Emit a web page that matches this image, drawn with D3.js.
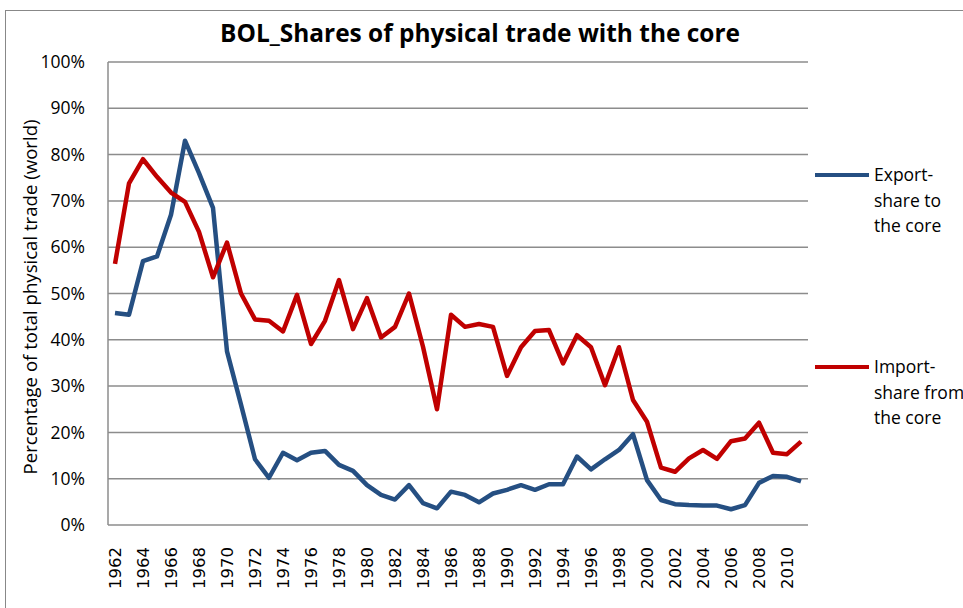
<!DOCTYPE html>
<html><head><meta charset="utf-8">
<script src="https://cdn.jsdelivr.net/npm/d3@7"></script>
<style>body{margin:0;background:#fff;}svg{display:block;}</style>
</head><body>
<svg id="chart" width="963" height="608"></svg>
<script>
const years = d3.range(1962, 2012);
const exportShare = [45.8,45.4,57.0,58.0,67.0,83.0,76.0,68.5,37.5,26.0,14.2,10.2,15.6,14.0,15.6,16.0,13.0,11.7,8.6,6.5,5.5,8.6,4.7,3.6,7.2,6.5,4.9,6.8,7.6,8.6,7.6,8.8,8.8,14.8,12.0,14.2,16.2,19.6,9.7,5.4,4.5,4.3,4.2,4.2,3.4,4.3,9.1,10.6,10.4,9.4];
const importShare = [56.4,73.8,79.0,75.2,71.8,69.8,63.3,53.5,61.0,50.0,44.4,44.1,41.8,49.7,39.1,44.1,52.9,42.3,49.0,40.5,42.8,50.0,38.5,25.0,45.4,42.8,43.4,42.8,32.2,38.4,41.9,42.1,34.9,41.0,38.4,30.2,38.4,27.0,22.3,12.4,11.5,14.4,16.2,14.3,18.1,18.7,22.1,15.6,15.3,18.0];
const yTicks = [0,10,20,30,40,50,60,70,80,90,100];
const xTickYears = d3.range(1962, 2011, 2);
const seriesNames = [["Export-","share to","the core"],["Import-","share from","the core"]];
const colors = ["#254F82","#C00000"];

const FONT = "'Open Sans', Lato, sans-serif";
const svg = d3.select("#chart");
const m = {left:108, right:808, top:62, bottom:525};

function fit(sel, target){
  const n = sel.node(); const w = n.getComputedTextLength();
  const fs = parseFloat(sel.attr("font-size"));
  sel.attr("font-size", (fs*target/w).toFixed(2));
}

svg.append("rect").attr("x",5.5).attr("y",10.5).attr("width",1000).attr("height",700)
  .attr("fill","none").attr("stroke","#888").attr("stroke-width",1);

const x = d3.scalePoint().domain(years).range([m.left, m.right]).padding(0.5);
const y = d3.scaleLinear().domain([0,100]).range([m.bottom, m.top]);

svg.append("g").selectAll("line").data(yTicks).join("line")
  .attr("x1", m.left).attr("x2", m.right)
  .attr("y1", d=>y(d)).attr("y2", d=>y(d))
  .attr("stroke","#8c8c8c").attr("stroke-width",1.5);
svg.append("line").attr("x1",m.left).attr("x2",m.left).attr("y1",m.top).attr("y2",m.bottom)
  .attr("stroke","#8c8c8c").attr("stroke-width",1.5);

const yAxis = d3.axisLeft(y).tickValues(yTicks).tickFormat(d=>d+"%").tickSize(0).tickPadding(23);
const yg = svg.append("g").attr("transform",`translate(${m.left},0)`).call(yAxis);
yg.select(".domain").remove();
yg.selectAll("text").attr("font-family",FONT).attr("font-size",17.5).attr("fill","#000");

const xAxis = d3.axisBottom(x).tickValues(xTickYears).tickSize(0).tickPadding(0);
const xg = svg.append("g").attr("transform",`translate(0,${m.bottom})`).call(xAxis);
xg.select(".domain").remove();
xg.selectAll("text").attr("font-family","'DejaVu Sans', sans-serif").attr("font-size",16.5).attr("fill","#000")
  .attr("transform","rotate(-90)").attr("text-anchor","end").attr("dy","0.35em").attr("x",-22).attr("y",0);

const yt = svg.append("text").attr("transform","translate(30,297) rotate(-90)").attr("text-anchor","middle")
  .attr("font-family",FONT).attr("font-size",17).attr("dy","0.35em")
  .text("Percentage of total physical trade (world)");
fit(yt, 355);

const tt = svg.append("text").attr("x",480).attr("y",33).attr("text-anchor","middle").attr("dy","0.35em")
  .attr("font-family",FONT).attr("font-weight","bold").attr("font-size",23)
  .text("BOL_Shares of physical trade with the core");
fit(tt, 520);

const line = d3.line().x((d,i)=>x(years[i])).y(d=>y(d));
[exportShare, importShare].forEach((s,k)=>{
  svg.append("path").datum(s).attr("d",line).attr("fill","none")
    .attr("stroke",colors[k]).attr("stroke-width",4.5).attr("stroke-linejoin","round");
});

const legY = [175, 367];
seriesNames.forEach((lines,k)=>{
  svg.append("line").attr("x1",815).attr("x2",869).attr("y1",legY[k]).attr("y2",legY[k])
    .attr("stroke",colors[k]).attr("stroke-width",4);
  lines.forEach((t,j)=>{
    svg.append("text").attr("x",874).attr("y",legY[k]+j*25.5).attr("dy","0.35em")
      .attr("font-family",FONT).attr("font-size",17.5).text(t);
  });
});
</script>
</body></html>
